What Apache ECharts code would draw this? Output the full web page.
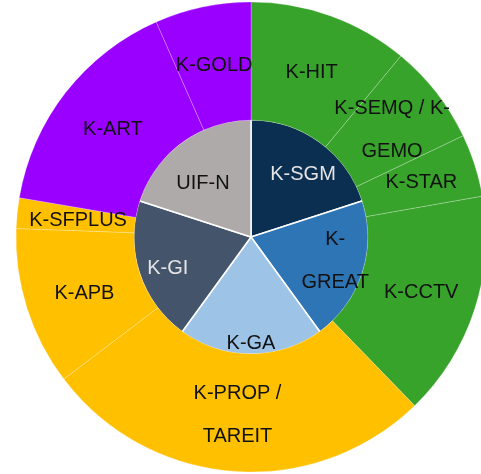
<!DOCTYPE html>
<html>
<head>
<meta charset="utf-8">
<script src="https://cdn.jsdelivr.net/npm/echarts@6/dist/echarts.min.js"></script>
<style>
html,body{margin:0;padding:0;background:#fff;}
#chart{width:481px;height:474px;}
</style>
</head>
<body>
<div id="chart"></div>
<script>
// Inner pie (equal shares)
const innerNames = ['K-SGM', 'K-GREAT', 'K-GA', 'K-GI', 'UIF-N'];
const innerLabels = ['K-SGM', 'K-\nGREAT', 'K-GA', 'K-GI', 'UIF-N'];
const innerValues = [20, 20, 20, 20, 20];
const innerColors = ['#0b2f51', '#2e75b6', '#9dc3e6', '#44546a', '#aeaaaa'];
const innerTextColors = ['#e4e4e4', '#111111', '#111111', '#e4e4e4', '#111111'];

// Outer ring
const outerNames = ['K-HIT', 'K-SEMQ / K-GEMO', 'K-STAR', 'K-CCTV', 'K-PROP / TAREIT', 'K-APB', 'K-SFPLUS', 'K-ART', 'K-GOLD'];
const outerLabels = ['K-HIT', 'K-SEMQ / K-\nGEMO', 'K-STAR', 'K-CCTV', 'K-PROP /\nTAREIT', 'K-APB', 'K-SFPLUS', 'K-ART', 'K-GOLD'];
const outerValues = [11.0, 6.9, 4.3, 15.5, 26.9, 10.9, 2.1, 15.7, 6.6];
const outerColors = ['#38a32b', '#38a32b', '#38a32b', '#38a32b', '#ffc000', '#ffc000', '#ffc000', '#9900ff', '#9900ff'];

const FONT = '"Liberation Sans", Arial, sans-serif';
const CENTER = [251, 237];
// small label nudges (px)
const innerDx = [0, 0, 0, 1, 4];
const innerDy = [9, -3, 18, 4, 18];
const outerDx = [0, 0, 0, 0, 0, 4, 5, 3, 0];
const outerDy = [4, 3, 0, 0, 0, 2, 2, 2, 4];

const chart = echarts.init(document.getElementById('chart'), null, {renderer: 'canvas'});

const innerData = innerNames.map((n, i) => ({
  name: n, value: innerValues[i],
  itemStyle: {color: innerColors[i]}
}));
const innerLabelData = innerNames.map((n, i) => ({
  name: n, value: innerValues[i],
  label: {color: innerTextColors[i], formatter: innerLabels[i]}
}));
const outerData = outerNames.map((n, i) => ({
  name: n, value: outerValues[i],
  itemStyle: {color: outerColors[i]},
  label: {formatter: outerLabels[i]}
}));

chart.setOption({
  animation: false,
  backgroundColor: '#ffffff',
  series: [
    {
      type: 'pie',
      center: CENTER,
      radius: [0, 117.5],
      startAngle: 90,
      clockwise: true,
      silent: true,
      label: {show: false},
      labelLine: {show: false},
      itemStyle: {borderColor: '#ffffff', borderWidth: 1.5},
      emphasis: {disabled: true},
      data: innerData
    },
    {
      type: 'pie',
      center: CENTER,
      radius: [116.8, 235],
      startAngle: 90,
      clockwise: true,
      silent: true,
      avoidLabelOverlap: false,
      itemStyle: {borderColor: 'rgba(255,255,255,0.4)', borderWidth: 0.6},
      label: {
        show: true, position: 'inside',
        fontFamily: FONT, fontSize: 20, color: '#111111',
        lineHeight: 43
      },
      labelLayout: function (p) {
        return {hideOverlap: false, dx: outerDx[p.dataIndex], dy: outerDy[p.dataIndex]};
      },
      labelLine: {show: false},
      emphasis: {disabled: true},
      data: outerData
    },
    {
      type: 'pie',
      center: CENTER,
      radius: [54, 117],
      startAngle: 90,
      clockwise: true,
      silent: true,
      avoidLabelOverlap: false,
      itemStyle: {color: 'rgba(0,0,0,0)', borderWidth: 0},
      label: {
        show: true, position: 'inside',
        fontFamily: FONT, fontSize: 20,
        lineHeight: 43
      },
      labelLayout: function (p) {
        return {hideOverlap: false, dx: innerDx[p.dataIndex], dy: innerDy[p.dataIndex]};
      },
      labelLine: {show: false},
      emphasis: {disabled: true},
      data: innerLabelData
    }
  ]
});
</script>
</body>
</html>
